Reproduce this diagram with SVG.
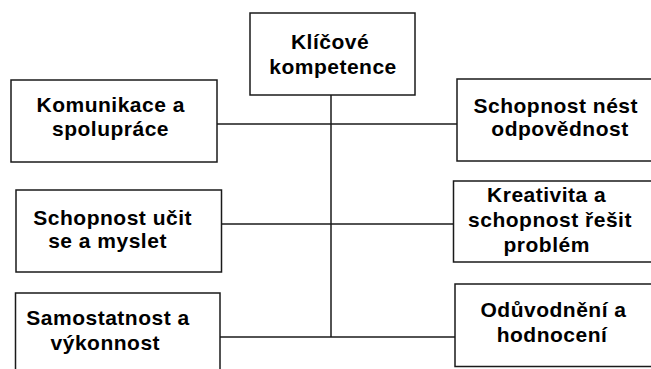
<svg xmlns="http://www.w3.org/2000/svg" width="651" height="369" viewBox="0 0 651 369">
<style>
.box{fill:#fff;stroke:#1a1a1a;stroke-width:1.5}
.ln{stroke:#1a1a1a;stroke-width:1.5;fill:none}
text{font-family:"Liberation Sans",Arial,sans-serif;font-weight:bold;font-size:21px;letter-spacing:0.5px;fill:#000;text-anchor:middle}
</style>
<rect width="651" height="369" fill="#fff"/>
<g id="connectors">
<line class="ln" x1="331" y1="95" x2="331" y2="337"/>
<line class="ln" x1="214" y1="124" x2="457" y2="124"/>
<line class="ln" x1="221.5" y1="224" x2="453.5" y2="224"/>
<line class="ln" x1="220" y1="337" x2="455" y2="337"/>
</g>
<g id="n-klicove">
<rect class="box" x="250" y="13" width="165" height="82"/>
<text x="330" y="48.5">Klíčové</text>
<text x="333" y="74">kompetence</text>
</g>
<g id="n-komunikace">
<rect class="box" x="11" y="80" width="206" height="82"/>
<text x="110.7" y="112.3">Komunikace a</text>
<text x="110.5" y="135.7">spolupráce</text>
</g>
<g id="n-odpovednost">
<rect class="box" x="457" y="79" width="196" height="82"/>
<text x="555.8" y="112.5">Schopnost nést</text>
<text x="560" y="135.5">odpovědnost</text>
</g>
<g id="n-ucit">
<rect class="box" x="16" y="190" width="205.5" height="82"/>
<text x="112.7" y="225">Schopnost učit</text>
<text x="107.5" y="247.5">se a myslet</text>
</g>
<g id="n-kreativita">
<rect class="box" x="453.5" y="181" width="199" height="81"/>
<text x="546.7" y="201.7">Kreativita a</text>
<text x="550" y="226.7">schopnost řešit</text>
<text x="546.7" y="251.7">problém</text>
</g>
<g id="n-samostatnost">
<rect class="box" x="15.5" y="293" width="204.5" height="82"/>
<text x="108" y="325">Samostatnost a</text>
<text x="105.3" y="350">výkonnost</text>
</g>
<g id="n-oduvodneni">
<rect class="box" x="455" y="284" width="198" height="82.5"/>
<text x="553.5" y="316.7">Odůvodnění a</text>
<text x="552" y="341.7">hodnocení</text>
</g>
</svg>
